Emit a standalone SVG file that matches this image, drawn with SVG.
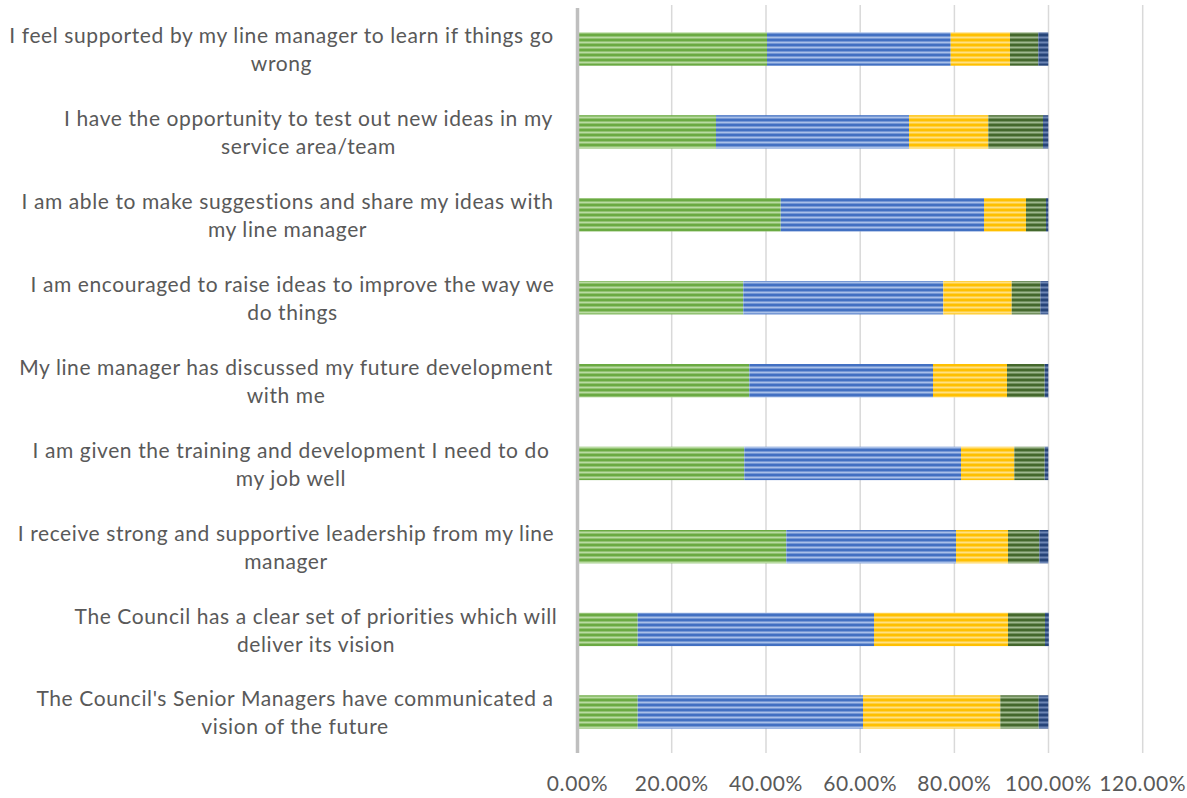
<svg xmlns="http://www.w3.org/2000/svg" width="1187" height="798" viewBox="0 0 1187 798">
<style>
.lbl{font-family:Lato,"Liberation Sans",sans-serif;font-size:21px;letter-spacing:0.6px;fill:#595959;text-anchor:middle}
.tick{font-family:Lato,"Liberation Sans",sans-serif;font-size:21px;letter-spacing:0.6px;fill:#595959;text-anchor:middle}
.grid{stroke:#d9d9d9;stroke-width:1.5}
.g{fill:url(#pG)}.b{fill:url(#pB)}.y{fill:url(#pY)}.d{fill:url(#pD)}.n{fill:url(#pN)}
</style>
<defs>
<pattern id="pG" patternUnits="userSpaceOnUse" width="10" height="5"><rect width="10" height="5" fill="#6aaa42"/><rect y="1.5" width="10" height="2" fill="#b9dba2"/></pattern>
<pattern id="pB" patternUnits="userSpaceOnUse" width="10" height="5"><rect width="10" height="5" fill="#4270c2"/><rect y="1.5" width="10" height="2" fill="#a9c0e8"/></pattern>
<pattern id="pY" patternUnits="userSpaceOnUse" width="10" height="5"><rect width="10" height="5" fill="#ffc000"/><rect y="1.5" width="10" height="2" fill="#ffe083"/></pattern>
<pattern id="pD" patternUnits="userSpaceOnUse" width="10" height="5"><rect width="10" height="5" fill="#44682c"/><rect y="1.5" width="10" height="2" fill="#9fb88f"/></pattern>
<pattern id="pN" patternUnits="userSpaceOnUse" width="10" height="5"><rect width="10" height="5" fill="#264478"/><rect y="1.5" width="10" height="2" fill="#6d86b5"/></pattern>
</defs>
<rect width="1187" height="798" fill="#ffffff"/>
<g id="gridlines">
<line class="grid" x1="671.7" y1="5" x2="671.7" y2="753"/>
<line class="grid" x1="766" y1="5" x2="766" y2="753"/>
<line class="grid" x1="860.2" y1="5" x2="860.2" y2="753"/>
<line class="grid" x1="954.4" y1="5" x2="954.4" y2="753"/>
<line class="grid" x1="1048.5" y1="5" x2="1048.5" y2="753"/>
<line class="grid" x1="1142.7" y1="5" x2="1142.7" y2="753"/>
</g>
<g id="bars">
<g id="row1">
<rect class="g" x="578" y="32.3" width="189" height="33.4"/>
<rect class="b" x="767" y="32.3" width="183.7" height="33.4"/>
<rect class="y" x="950.7" y="32.3" width="59.3" height="33.4"/>
<rect class="d" x="1010" y="32.3" width="28.3" height="33.4"/>
<rect class="n" x="1038.3" y="32.3" width="10" height="33.4"/>
</g>
<g id="row2">
<rect class="g" x="578" y="115.2" width="138" height="33.4"/>
<rect class="b" x="716" y="115.2" width="193" height="33.4"/>
<rect class="y" x="909" y="115.2" width="79.3" height="33.4"/>
<rect class="d" x="988.3" y="115.2" width="54.7" height="33.4"/>
<rect class="n" x="1043" y="115.2" width="5.3" height="33.4"/>
</g>
<g id="row3">
<rect class="g" x="578" y="198.1" width="202.7" height="33.4"/>
<rect class="b" x="780.7" y="198.1" width="203.3" height="33.4"/>
<rect class="y" x="984" y="198.1" width="42" height="33.4"/>
<rect class="d" x="1026" y="198.1" width="20" height="33.4"/>
<rect class="n" x="1046" y="198.1" width="2.3" height="33.4"/>
</g>
<g id="row4">
<rect class="g" x="578" y="281" width="165.3" height="33.4"/>
<rect class="b" x="743.3" y="281" width="200" height="33.4"/>
<rect class="y" x="943.3" y="281" width="68.4" height="33.4"/>
<rect class="d" x="1011.7" y="281" width="28.6" height="33.4"/>
<rect class="n" x="1040.3" y="281" width="8" height="33.4"/>
</g>
<g id="row5">
<rect class="g" x="578" y="364" width="171.3" height="33.4"/>
<rect class="b" x="749.3" y="364" width="183.7" height="33.4"/>
<rect class="y" x="933" y="364" width="74" height="33.4"/>
<rect class="d" x="1007" y="364" width="37.7" height="33.4"/>
<rect class="n" x="1044.7" y="364" width="3.6" height="33.4"/>
</g>
<g id="row6">
<rect class="g" x="578" y="446.7" width="166.3" height="33.4"/>
<rect class="b" x="744.3" y="446.7" width="216.7" height="33.4"/>
<rect class="y" x="961" y="446.7" width="53.3" height="33.4"/>
<rect class="d" x="1014.3" y="446.7" width="30.4" height="33.4"/>
<rect class="n" x="1044.7" y="446.7" width="3.6" height="33.4"/>
</g>
<g id="row7">
<rect class="g" x="578" y="530" width="208.3" height="33.4"/>
<rect class="b" x="786.3" y="530" width="169.7" height="33.4"/>
<rect class="y" x="956" y="530" width="52" height="33.4"/>
<rect class="d" x="1008" y="530" width="31.3" height="33.4"/>
<rect class="n" x="1039.3" y="530" width="9" height="33.4"/>
</g>
<g id="row8">
<rect class="g" x="578" y="612.7" width="59.7" height="33.4"/>
<rect class="b" x="637.7" y="612.7" width="236.3" height="33.4"/>
<rect class="y" x="874" y="612.7" width="134" height="33.4"/>
<rect class="d" x="1008" y="612.7" width="37" height="33.4"/>
<rect class="n" x="1045" y="612.7" width="3.8" height="33.4"/>
</g>
<g id="row9">
<rect class="g" x="578" y="695.3" width="59.7" height="33.4"/>
<rect class="b" x="637.7" y="695.3" width="225.3" height="33.4"/>
<rect class="y" x="863" y="695.3" width="137.3" height="33.4"/>
<rect class="d" x="1000.3" y="695.3" width="38.4" height="33.4"/>
<rect class="n" x="1038.7" y="695.3" width="9.6" height="33.4"/>
</g>
</g>
<g id="axis">
<line x1="577.5" y1="8" x2="577.5" y2="753" stroke="#bfbfbf" stroke-width="3.5"/>
</g>
<g id="category-labels">
<text class="lbl" x="281.5" y="43"><tspan x="281.5">I feel supported by my line manager to learn if things go</tspan><tspan x="281.5" dy="28">wrong</tspan></text>
<text class="lbl" x="308.5" y="126"><tspan x="308.5">I have the opportunity to test out new ideas in my</tspan><tspan x="308.5" dy="28">service area/team</tspan></text>
<text class="lbl" x="287.5" y="209"><tspan x="287.5">I am able to make suggestions and share my ideas with</tspan><tspan x="287.5" dy="28">my line manager</tspan></text>
<text class="lbl" x="292.5" y="292"><tspan x="292.5">I am encouraged to raise ideas to improve the way we</tspan><tspan x="292.5" dy="28">do things</tspan></text>
<text class="lbl" x="286" y="375"><tspan x="286">My line manager has discussed my future development</tspan><tspan x="286" dy="28">with me</tspan></text>
<text class="lbl" x="291" y="457.5"><tspan x="291">I am given the training and development I need to do</tspan><tspan x="291" dy="28">my job well</tspan></text>
<text class="lbl" x="286" y="541"><tspan x="286">I receive strong and supportive leadership from my line</tspan><tspan x="286" dy="28">manager</tspan></text>
<text class="lbl" x="316" y="623.5"><tspan x="316">The Council has a clear set of priorities which will</tspan><tspan x="316" dy="28">deliver its vision</tspan></text>
<text class="lbl" x="295" y="706"><tspan x="295">The Council's Senior Managers have communicated a</tspan><tspan x="295" dy="28">vision of the future</tspan></text>
</g>
<g id="tick-labels">
<text class="tick" x="577.5" y="791">0.00%</text>
<text class="tick" x="671.7" y="791">20.00%</text>
<text class="tick" x="766" y="791">40.00%</text>
<text class="tick" x="860.2" y="791">60.00%</text>
<text class="tick" x="954.4" y="791">80.00%</text>
<text class="tick" x="1048.5" y="791">100.00%</text>
<text class="tick" x="1142.7" y="791">120.00%</text>
</g>
</svg>
